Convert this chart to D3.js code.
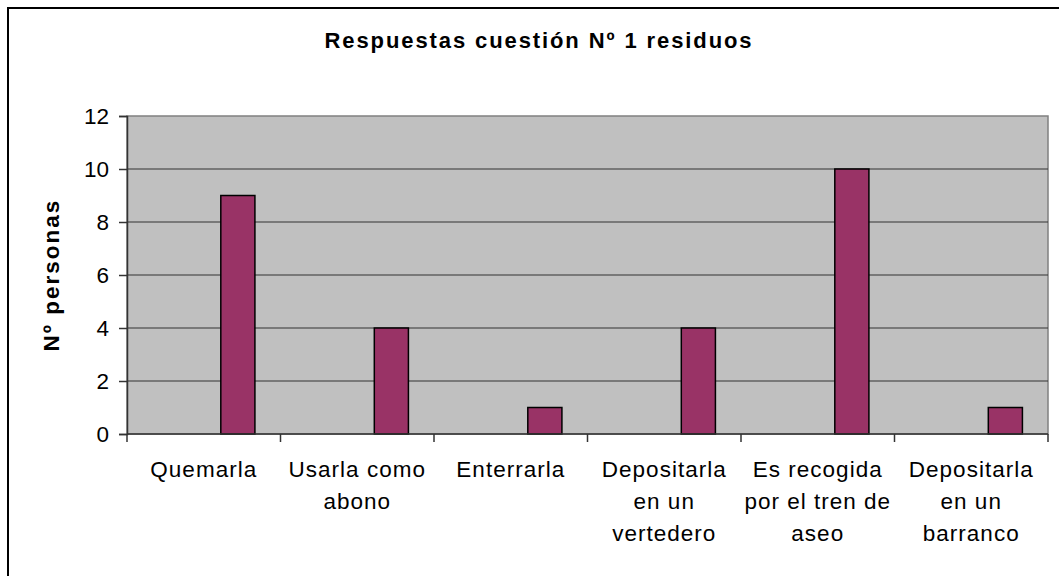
<!DOCTYPE html>
<html>
<head>
<meta charset="utf-8">
<script src="https://cdn.jsdelivr.net/npm/d3@7"></script>
<style>
body { margin: 0; background: #fff; }
text { font-family: "Liberation Sans", Arial, sans-serif; fill: #000; }
</style>
</head>
<body>
<div id="chart"></div>
<script>
// data
var categories = [
	["Quemarla"],
	["Usarla como", "abono"],
	["Enterrarla"],
	["Depositarla", "en un", "vertedero"],
	["Es recogida", "por el tren de", "aseo"],
	["Depositarla", "en un", "barranco"]
];
var seriesNames = ["Serie1", "Serie2", "Serie3"];
var personas = [9, 4, 1, 4, 10, 1];   // only Serie3 has values
var yTicks = [0, 2, 4, 6, 8, 10, 12];
var title = "Respuestas cuestión Nº 1 residuos";
var yTitle = "Nº personas";

var W = 1059, H = 576;
var plot = {x: 127, y: 116, w: 921, h: 318};

var svg = d3.select("#chart").append("svg")
	.attr("width", W).attr("height", H);

// outer frame (right/bottom edges fall outside the picture)
svg.append("rect")
	.attr("x", 8).attr("y", 8)
	.attr("width", W + 10).attr("height", H + 10)
	.attr("fill", "#fff").attr("stroke", "#000").attr("stroke-width", 2);

svg.append("text")
	.attr("x", 539).attr("y", 48)
	.attr("text-anchor", "middle")
	.style("font-size", "22px").style("font-weight", "bold")
	.style("letter-spacing", "1.9px")
	.text(title);

var x = d3.scaleBand()
	.domain(d3.range(categories.length))
	.range([plot.x, plot.x + plot.w]);

var xs = d3.scaleBand()
	.domain(seriesNames)
	.range([0, x.bandwidth()])
	.paddingInner(0).paddingOuter(0.75);

var y = d3.scaleLinear()
	.domain([0, 12])
	.range([plot.y + plot.h, plot.y]);

var g = svg.append("g");

g.append("rect")
	.attr("x", plot.x).attr("y", plot.y)
	.attr("width", plot.w).attr("height", plot.h)
	.attr("fill", "#C0C0C0")
	.attr("stroke", "#808080").attr("stroke-width", 1.5);

// gridlines
g.selectAll(".grid").data(yTicks.filter(function(d){ return d > 0 && d < 12; }))
	.enter().append("line")
	.attr("x1", plot.x).attr("x2", plot.x + plot.w)
	.attr("y1", function(d){ return y(d); })
	.attr("y2", function(d){ return y(d); })
	.attr("stroke", "#333").attr("stroke-width", 1);

// bars
g.selectAll(".bar").data(personas)
	.enter().append("rect")
	.attr("x", function(d, i){ return x(i) + xs("Serie3"); })
	.attr("width", xs.bandwidth())
	.attr("y", function(d){ return y(d); })
	.attr("height", function(d){ return y(0) - y(d); })
	.attr("fill", "#993366")
	.attr("stroke", "#000").attr("stroke-width", 1.5);

// y axis
var yAxis = d3.axisLeft(y).tickValues(yTicks).tickSize(8).tickPadding(10);
var ya = svg.append("g")
	.attr("transform", "translate(" + plot.x + ",0)")
	.call(yAxis);
ya.select(".domain").attr("stroke", "#333").attr("stroke-width", 1.5);
ya.selectAll(".tick line").attr("stroke", "#333").attr("stroke-width", 1.5);
ya.selectAll("text")
	.style("font-size", "22.5px")
	.style("font-family", "'Liberation Sans', Arial, sans-serif")
	.attr("fill", "#000");

// x axis with ticks at band edges
var xa = svg.append("g");
xa.append("line")
	.attr("x1", plot.x).attr("x2", plot.x + plot.w)
	.attr("y1", y(0)).attr("y2", y(0))
	.attr("stroke", "#333").attr("stroke-width", 1.5);
var edges = d3.range(categories.length + 1);
xa.selectAll(".xt").data(edges).enter().append("line")
	.attr("x1", function(d){ return plot.x + d * x.step(); })
	.attr("x2", function(d){ return plot.x + d * x.step(); })
	.attr("y1", y(0)).attr("y2", y(0) + 8)
	.attr("stroke", "#333").attr("stroke-width", 1.5);

var lab = svg.selectAll(".xl").data(categories).enter().append("text")
	.attr("text-anchor", "middle")
	.style("font-size", "22.5px")
	.style("letter-spacing", "1px")
	.attr("transform", function(d, i){ return "translate(" + (x(i) + x.bandwidth() / 2) + ",0)"; });
lab.selectAll("tspan").data(function(d){ return d; }).enter().append("tspan")
	.attr("x", 0)
	.attr("y", function(d, j){ return 477 + j * 32; })
	.text(function(d){ return d; });

svg.append("text")
	.attr("transform", "translate(59," + (plot.y + plot.h / 2) + ") rotate(-90)")
	.attr("text-anchor", "middle")
	.style("font-size", "22.5px").style("font-weight", "bold")
	.style("letter-spacing", "2px")
	.text(yTitle);
</script>
</body>
</html>
